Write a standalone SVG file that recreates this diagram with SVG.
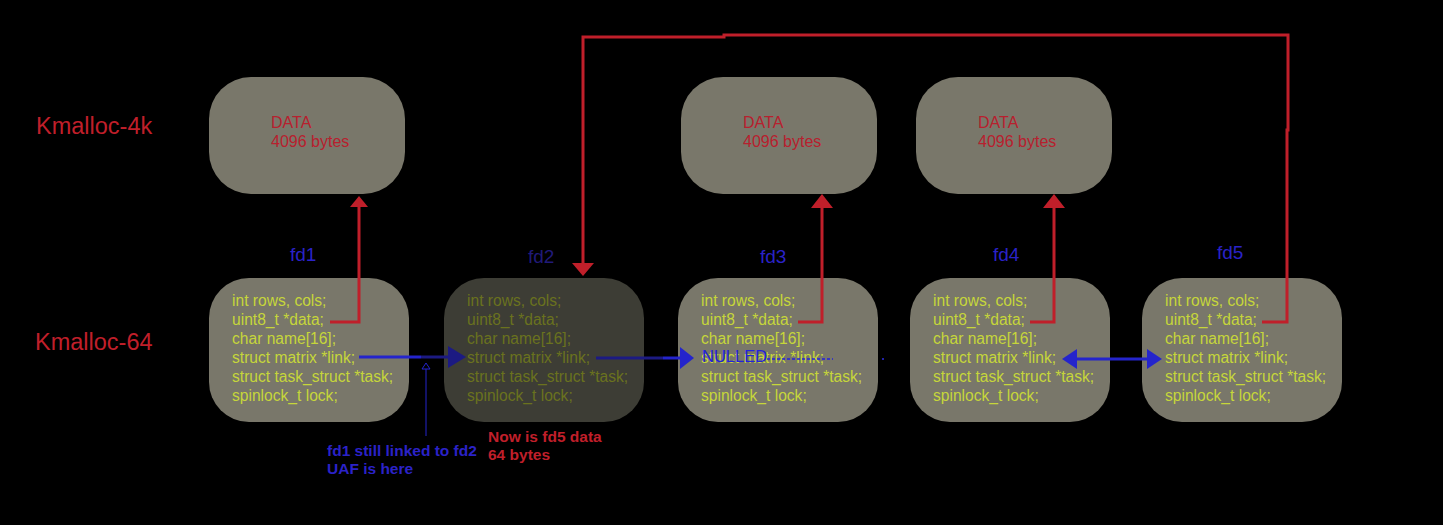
<svg xmlns="http://www.w3.org/2000/svg" width="1443" height="525" viewBox="0 0 1443 525">
<style>
.box{fill:#79776a}
.boxd{fill:#3d3d35}
.code{font-family:"Liberation Sans",Arial,sans-serif;font-size:15.6px;fill:#c6d63a}
.coded{font-family:"Liberation Sans",Arial,sans-serif;font-size:15.6px;fill:#6a721e}
.data{font-family:"Liberation Sans",Arial,sans-serif;font-size:16px;fill:#b8202e}
.fd{font-family:"Liberation Sans",Arial,sans-serif;font-size:19px;fill:#2a22c8}
.km{font-family:"Liberation Sans",Arial,sans-serif;font-size:23.5px;fill:#c01f2a}
.red{stroke:#c01f2a;stroke-width:3;fill:none}
.blue{stroke:#2424cc;stroke-width:3;fill:none}
.navy{stroke:#1c1a82;stroke-width:3;fill:none}
.note{font-family:"Liberation Sans",Arial,sans-serif;font-size:15.5px;font-weight:bold}
</style>
<rect width="1443" height="525" fill="#000"/>

<text class="km" x="36" y="134">Kmalloc-4k</text>
<text class="km" x="35" y="350">Kmalloc-64</text>

<g id="data1"><rect class="box" x="209" y="77" width="196" height="117" rx="42"/>
<text class="data" x="271" y="128">DATA</text><text class="data" x="271" y="147">4096 bytes</text></g>
<g id="data3"><rect class="box" x="681" y="77" width="196" height="117" rx="42"/>
<text class="data" x="743" y="128">DATA</text><text class="data" x="743" y="147">4096 bytes</text></g>
<g id="data4"><rect class="box" x="916" y="77" width="196" height="117" rx="42"/>
<text class="data" x="978" y="128">DATA</text><text class="data" x="978" y="147">4096 bytes</text></g>

<g id="fd1"><text class="fd" x="290" y="261">fd1</text>
<rect class="box" x="209" y="278" width="200" height="144" rx="40"/>
<text class="code" x="232" y="306">int rows, cols;</text>
<text class="code" x="232" y="325">uint8_t *data;</text>
<text class="code" x="232" y="344">char name[16];</text>
<text class="code" x="232" y="363">struct matrix *link;</text>
<text class="code" x="232" y="382">struct task_struct *task;</text>
<text class="code" x="232" y="401">spinlock_t lock;</text></g>

<g id="fd2"><text class="fd" x="528" y="263" style="fill:#201a7a">fd2</text>
<rect class="boxd" x="444" y="278" width="200" height="144" rx="40"/>
<text class="coded" x="467" y="306">int rows, cols;</text>
<text class="coded" x="467" y="325">uint8_t *data;</text>
<text class="coded" x="467" y="344">char name[16];</text>
<text class="coded" x="467" y="363">struct matrix *link;</text>
<text class="coded" x="467" y="382">struct task_struct *task;</text>
<text class="coded" x="467" y="401">spinlock_t lock;</text></g>

<g id="fd3"><text class="fd" x="760" y="263">fd3</text>
<rect class="box" x="678" y="278" width="200" height="144" rx="40"/>
<text class="code" x="701" y="306">int rows, cols;</text>
<text class="code" x="701" y="325">uint8_t *data;</text>
<text class="code" x="701" y="344">char name[16];</text>
<text class="code" x="701" y="363">struct matrix *link;</text>
<text class="code" x="701" y="382">struct task_struct *task;</text>
<text class="code" x="701" y="401">spinlock_t lock;</text>
<text x="702" y="362" style="font-family:'Liberation Sans',Arial,sans-serif;font-size:16.5px;fill:#2222dd">NULLED</text>
<line x1="767" y1="359" x2="833" y2="359" stroke="#2222dd" stroke-width="1.3" stroke-dasharray="3,2"/>
<rect x="882" y="358" width="2" height="2" fill="#2222aa"/></g>

<g id="fd4"><text class="fd" x="993" y="261">fd4</text>
<rect class="box" x="910" y="278" width="200" height="144" rx="40"/>
<text class="code" x="933" y="306">int rows, cols;</text>
<text class="code" x="933" y="325">uint8_t *data;</text>
<text class="code" x="933" y="344">char name[16];</text>
<text class="code" x="933" y="363">struct matrix *link;</text>
<text class="code" x="933" y="382">struct task_struct *task;</text>
<text class="code" x="933" y="401">spinlock_t lock;</text></g>

<g id="fd5"><text class="fd" x="1217" y="259">fd5</text>
<rect class="box" x="1142" y="278" width="200" height="144" rx="40"/>
<text class="code" x="1165" y="306">int rows, cols;</text>
<text class="code" x="1165" y="325">uint8_t *data;</text>
<text class="code" x="1165" y="344">char name[16];</text>
<text class="code" x="1165" y="363">struct matrix *link;</text>
<text class="code" x="1165" y="382">struct task_struct *task;</text>
<text class="code" x="1165" y="401">spinlock_t lock;</text></g>

<g id="connectors">
<!-- red data pointers -->
<polyline class="red" points="330,322 359,322 359,205"/>
<polygon points="359,196 350,207 368,207" fill="#c01f2a"/>
<polyline class="red" points="798,322 822,322 822,206"/>
<polygon points="822,194 811,208 833,208" fill="#c01f2a"/>
<polyline class="red" points="1030,322 1054,322 1054,206"/>
<polygon points="1054,194 1043,208 1065,208" fill="#c01f2a"/>
<polyline class="red" points="1262,322 1287,322 1287,130 1288,130 1288,35 724,35 724,37 583,37 583,265"/>
<polygon points="583,276 572,263 594,263" fill="#c01f2a"/>
<!-- blue links -->
<line class="blue" x1="359" y1="357" x2="421" y2="357"/>
<line class="navy" x1="421" y1="357" x2="452" y2="357"/>
<polygon points="466,357 448,346 448,368" fill="#1c1a82"/>
<line class="navy" x1="596" y1="358" x2="663" y2="358"/>
<line class="blue" x1="663" y1="358" x2="682" y2="358"/>
<polygon points="694,358 680,347 680,369" fill="#2424cc"/>
<line class="blue" x1="1074" y1="359" x2="1150" y2="359"/>
<polygon points="1062,359 1077,349 1077,369" fill="#2424cc"/>
<polygon points="1162,359 1147,349 1147,369" fill="#2424cc"/>
<!-- UAF pointer -->
<line x1="426" y1="369" x2="426" y2="436" stroke="#2424cc" stroke-width="1"/>
<polygon points="426,363 422,369 430,369" fill="none" stroke="#2424cc" stroke-width="1"/>
</g>

<text class="note" x="327" y="456" fill="#2b22c8">fd1 still linked to fd2</text>
<text class="note" x="327" y="474" fill="#2b22c8">UAF is here</text>
<text class="note" x="488" y="442" fill="#c01f2a">Now is fd5 data</text>
<text class="note" x="488" y="460" fill="#c01f2a">64 bytes</text>
</svg>
